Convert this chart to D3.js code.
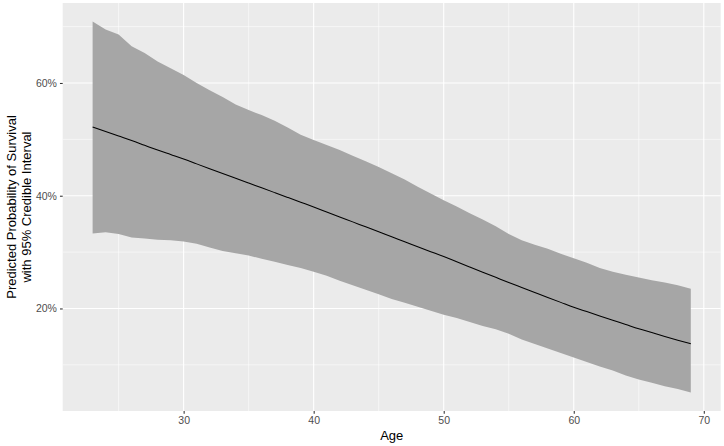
<!DOCTYPE html>
<html>
<head>
<meta charset="utf-8">
<script src="https://cdn.jsdelivr.net/npm/d3@7"></script>
<style>
  html, body { margin: 0; padding: 0; background: #fff; }
  svg { display: block; font-family: "Liberation Sans", Arial, Helvetica, sans-serif; }
</style>
</head>
<body>
<svg id="chart" width="724" height="446"></svg>
<script>
const ages = [23,24,25,26,27,28,29,30,31,32,33,34,35,36,37,38,39,40,41,42,43,44,45,46,
  47,48,49,50,51,52,53,54,55,56,57,58,59,60,61,62,63,64,65,66,67,68,69];
const meanProb = [52.2,51.4,50.6,49.8,48.95,48.1,47.3,46.5,45.65,44.8,43.95,43.1,42.25,41.4,40.55,39.7,
  38.85,38.0,37.12,36.24,35.36,34.48,33.6,32.72,31.84,30.96,30.08,29.2,28.28,27.36,26.44,25.52,24.6,23.72,
  22.84,21.96,21.08,20.2,19.44,18.68,17.92,17.16,16.4,15.72,15.04,14.38,13.75];
const upperProb = [70.9,69.5,68.6,66.5,65.3,63.8,62.6,61.4,60.0,58.7,57.5,56.2,55.2,54.3,53.3,52.1,
  50.8,49.9,49.0,48.1,47.1,46.1,45.1,44.0,42.9,41.6,40.4,39.2,38.1,36.9,35.8,34.6,33.2,32.1,
  31.3,30.6,29.7,28.9,28.1,27.2,26.5,26.0,25.5,25.0,24.6,24.1,23.5];
const lowerProb = [33.3,33.5,33.2,32.6,32.4,32.2,32.1,31.9,31.5,30.8,30.2,29.8,29.4,28.8,28.3,27.7,
  27.2,26.5,25.8,24.9,24.1,23.3,22.5,21.7,21.0,20.3,19.6,18.9,18.3,17.6,16.9,16.3,15.5,14.5,
  13.7,12.9,12.1,11.3,10.5,9.7,9.0,8.1,7.4,6.8,6.2,5.7,5.1];
const xMajor = [30,40,50,60,70];
const xMinor = [25,35,45,55,65];
const yMajor = [20,40,60];
const yMinor = [10,30,50,70];
const xTitle = "Age";
const yTitleLines = ["Predicted Probability of Survival", "with 95% Credible Interval"];

const svg = d3.select("#chart");
const panel = {left: 62.7, right: 720.7, top: 3, bottom: 411};

const data = ages.map((a, i) => ({age: a, mean: meanProb[i], lo: lowerProb[i], hi: upperProb[i]}));

const xMin = d3.min(ages), xMax = d3.max(ages);
const xPad = (xMax - xMin) * 0.05;
const x = d3.scaleLinear().domain([xMin - xPad, xMax + xPad]).range([panel.left, panel.right]);
const yLo = d3.min(lowerProb), yHi = d3.max(upperProb);
const yPad = (yHi - yLo) * 0.05;
const y = d3.scaleLinear().domain([yLo - yPad, yHi + yPad]).range([panel.bottom, panel.top]);

// panel background
svg.append("rect")
  .attr("x", panel.left).attr("y", panel.top)
  .attr("width", panel.right - panel.left).attr("height", panel.bottom - panel.top)
  .attr("fill", "#EBEBEB");

const grid = svg.append("g");
grid.selectAll(".xminor").data(xMinor).join("line")
  .attr("x1", d => x(d)).attr("x2", d => x(d))
  .attr("y1", panel.top).attr("y2", panel.bottom)
  .attr("stroke", "#fff").attr("stroke-width", 0.55);
grid.selectAll(".yminor").data(yMinor).join("line")
  .attr("y1", d => y(d)).attr("y2", d => y(d))
  .attr("x1", panel.left).attr("x2", panel.right)
  .attr("stroke", "#fff").attr("stroke-width", 0.55);
grid.selectAll(".xmajor").data(xMajor).join("line")
  .attr("x1", d => x(d)).attr("x2", d => x(d))
  .attr("y1", panel.top).attr("y2", panel.bottom)
  .attr("stroke", "#fff").attr("stroke-width", 1.1);
grid.selectAll(".ymajor").data(yMajor).join("line")
  .attr("y1", d => y(d)).attr("y2", d => y(d))
  .attr("x1", panel.left).attr("x2", panel.right)
  .attr("stroke", "#fff").attr("stroke-width", 1.1);

// ribbon
const area = d3.area()
  .x(d => x(d.age)).y0(d => y(d.lo)).y1(d => y(d.hi));
svg.append("path").datum(data)
  .attr("d", area)
  .attr("fill", "#A6A6A6");

// mean line
const line = d3.line().x(d => x(d.age)).y(d => y(d.mean)).curve(d3.curveMonotoneX);
svg.append("path").datum(data)
  .attr("d", line)
  .attr("fill", "none").attr("stroke", "#000").attr("stroke-width", 1.05);

// axes
const xAxis = d3.axisBottom(x).tickValues(xMajor).tickSize(2.75).tickPadding(3).tickFormat(d3.format("d"));
const gx = svg.append("g").attr("transform", `translate(0,${panel.bottom})`).call(xAxis);
gx.select(".domain").remove();
gx.selectAll(".tick line").attr("stroke", "#333").attr("stroke-width", 1.07);
gx.selectAll(".tick text").attr("fill", "#4D4D4D").attr("font-size", "10.5px")
  .attr("font-family", "Liberation Sans, Arial, sans-serif");

const yAxis = d3.axisLeft(y).tickValues(yMajor).tickSize(2.75).tickPadding(3).tickFormat(d => d + "%");
const gy = svg.append("g").attr("transform", `translate(${panel.left},0)`).call(yAxis);
gy.select(".domain").remove();
gy.selectAll(".tick line").attr("stroke", "#333").attr("stroke-width", 1.07);
gy.selectAll(".tick text").attr("fill", "#4D4D4D").attr("font-size", "10.5px")
  .attr("font-family", "Liberation Sans, Arial, sans-serif");

// titles
svg.append("text")
  .attr("x", (panel.left + panel.right) / 2).attr("y", 440)
  .attr("text-anchor", "middle").attr("font-size", "13px").attr("fill", "#000")
  .text(xTitle);

const yt = svg.append("text")
  .attr("transform", `translate(16,${(panel.top + panel.bottom) / 2}) rotate(-90)`)
  .attr("text-anchor", "middle").attr("font-size", "13px").attr("fill", "#000");
yTitleLines.forEach((t, i) => {
  yt.append("tspan").attr("x", 0).attr("dy", i === 0 ? 0 : 14.5).text(t);
});
</script>
</body>
</html>
